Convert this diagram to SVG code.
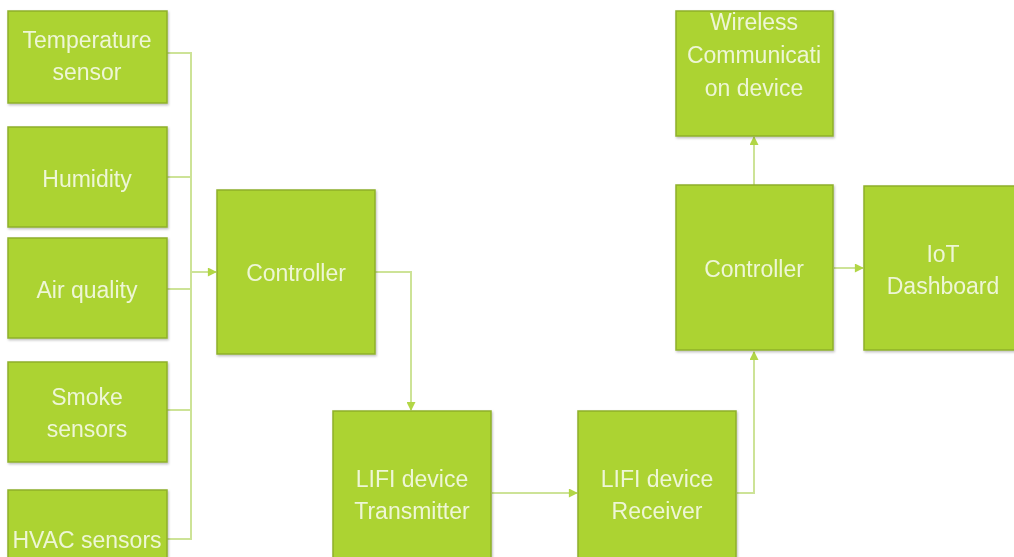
<svg xmlns="http://www.w3.org/2000/svg" width="1014" height="557" viewBox="0 0 1014 557">
  <defs>
    <style>
      .box { fill: #acd333; stroke: #8fb02b; stroke-width: 1.5; }
      .lbl { font-family: "Liberation Sans", Arial, sans-serif; font-size: 23px; fill: #eef6d6; text-anchor: middle; }
      .wire { fill: none; stroke: #cde397; stroke-width: 2; }
    </style>
    <marker id="arrow" viewBox="0 0 10 10" refX="9" refY="5" markerWidth="10" markerHeight="9" orient="auto" markerUnits="userSpaceOnUse">
      <path d="M0,0 L10,5 L0,10 Z" fill="#b2d646"/>
    </marker>
    <filter id="shade" x="-5%" y="-5%" width="110%" height="110%">
      <feDropShadow dx="1" dy="1.5" stdDeviation="1" flood-color="#000" flood-opacity="0.25"/>
    </filter>
  </defs>
  <rect width="1014" height="557" fill="#ffffff"/>

  <!-- connectors -->
  <g id="connectors">
    <polyline class="wire" points="167,53 191,53 191,539 167,539"/>
    <line class="wire" x1="167" y1="177" x2="191" y2="177"/>
    <line class="wire" x1="167" y1="289" x2="191" y2="289"/>
    <line class="wire" x1="167" y1="410" x2="191" y2="410"/>
    <line class="wire" x1="191" y1="272" x2="216" y2="272" marker-end="url(#arrow)"/>
    <polyline class="wire" points="375,272 411,272 411,410" marker-end="url(#arrow)"/>
    <line class="wire" x1="492" y1="493" x2="577" y2="493" marker-end="url(#arrow)"/>
    <polyline class="wire" points="737,493 754,493 754,352" marker-end="url(#arrow)"/>
    <line class="wire" x1="754" y1="185" x2="754" y2="137" marker-end="url(#arrow)"/>
    <line class="wire" x1="834" y1="268" x2="863" y2="268" marker-end="url(#arrow)"/>
  </g>

  <g id="temperature" filter="url(#shade)">
    <rect class="box" x="8" y="11" width="159" height="92"/>
    <text class="lbl" x="87" y="48">Temperature</text>
    <text class="lbl" x="87" y="80">sensor</text>
  </g>
  <g id="humidity" filter="url(#shade)">
    <rect class="box" x="8" y="127" width="159" height="100"/>
    <text class="lbl" x="87" y="187">Humidity</text>
  </g>
  <g id="air-quality" filter="url(#shade)">
    <rect class="box" x="8" y="238" width="159" height="100"/>
    <text class="lbl" x="87" y="298">Air quality</text>
  </g>
  <g id="smoke" filter="url(#shade)">
    <rect class="box" x="8" y="362" width="159" height="100"/>
    <text class="lbl" x="87" y="405">Smoke</text>
    <text class="lbl" x="87" y="437">sensors</text>
  </g>
  <g id="hvac" filter="url(#shade)">
    <rect class="box" x="8" y="490" width="159" height="80"/>
    <text class="lbl" x="87" y="548">HVAC sensors</text>
  </g>
  <g id="controller-tx" filter="url(#shade)">
    <rect class="box" x="217" y="190" width="158" height="164"/>
    <text class="lbl" x="296" y="281">Controller</text>
  </g>
  <g id="lifi-transmitter" filter="url(#shade)">
    <rect class="box" x="333" y="411" width="158" height="160"/>
    <text class="lbl" x="412" y="487">LIFI device</text>
    <text class="lbl" x="412" y="519">Transmitter</text>
  </g>
  <g id="lifi-receiver" filter="url(#shade)">
    <rect class="box" x="578" y="411" width="158" height="160"/>
    <text class="lbl" x="657" y="487">LIFI device</text>
    <text class="lbl" x="657" y="519">Receiver</text>
  </g>
  <g id="controller-rx" filter="url(#shade)">
    <rect class="box" x="676" y="185" width="157" height="165"/>
    <text class="lbl" x="754" y="277">Controller</text>
  </g>
  <g id="wireless" filter="url(#shade)">
    <rect class="box" x="676" y="11" width="157" height="125"/>
    <text class="lbl" x="754" y="30">Wireless</text>
    <text class="lbl" x="754" y="63">Communicati</text>
    <text class="lbl" x="754" y="96">on device</text>
  </g>
  <g id="iot-dashboard" filter="url(#shade)">
    <rect class="box" x="864" y="186" width="160" height="164"/>
    <text class="lbl" x="943" y="262">IoT</text>
    <text class="lbl" x="943" y="294">Dashboard</text>
  </g>
</svg>
